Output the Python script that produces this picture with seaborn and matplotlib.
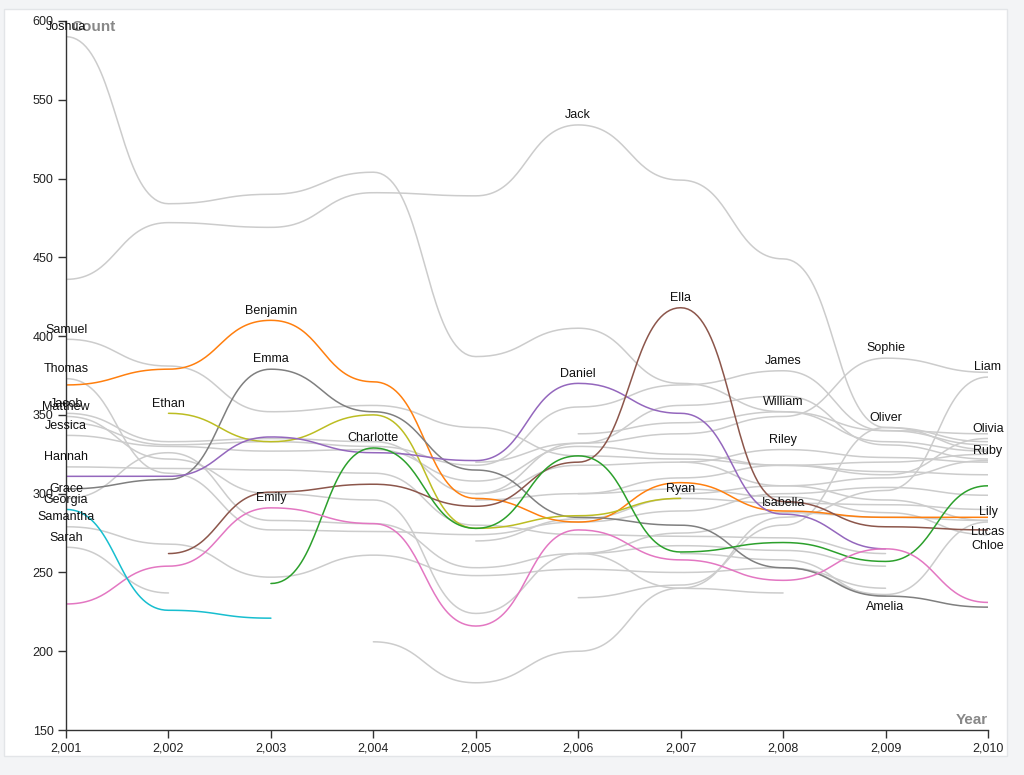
import numpy as np
import pandas as pd
import matplotlib
matplotlib.use("Agg")
import matplotlib.pyplot as plt
from matplotlib.patches import Rectangle
import seaborn as sns

sns.set_theme(style="white")
plt.rcParams['font.family'] = ['Liberation Sans', 'DejaVu Sans']

N = None
years = [2001, 2002, 2003, 2004, 2005, 2006, 2007, 2008, 2009, 2010]

# counts per name, one value per year (None = name not in the table that year)
joshua    = [590, 484, 490, 504, 387, 405, 370, 352, 333, 327]
jack      = [436, 472, 469, 491, 489, 534, 499, 449, 342, 328]
samuel    = [398, 381, 352, 356, 342, 324, 322, 318, 314, 312]
thomas    = [373, 313, 277, 276, 274, 282, 289, 300, 304, 299]
jacob     = [351, 333, 335, 333, 300, 332, 356, 362, 331, 322]
matthew   = [349, 322, 300, 296, 224, 262, 267, 264, 254, N]
jessica   = [337, 330, 327, 328, 308, 330, 325, 318, 320, 325]
hannah    = [317, 316, 315, 313, 280, 274, 273, 272, 262, N]
grace     = [297, 326, 283, 281, 253, 262, 240, 237, N, N]
georgia   = [290, 226, 221, N, N, N, N, N, N, N]
samantha  = [279, 268, 247, 261, 248, 252, 250, 253, 240, N]
sarah     = [266, 237, N, N, N, N, N, N, N, N]
ethan     = [N, 351, 333, 350, 278, 286, 297, N, N, N]
benjamin  = [369, 379, 410, 371, 297, 282, 307, 289, 285, 285]
emma      = [303, 309, 379, 352, 315, 285, 280, 253, 235, 228]
emily     = [230, 254, 291, 281, 216, 277, 258, 245, 265, 231]
charlotte = [N, N, 243, 329, 278, 324, 263, 269, 257, 305]
daniel    = [311, 311, 336, 326, 321, 370, 351, 287, 265, N]
ella      = [N, 262, 301, 306, 292, 320, 418, 295, 279, 277]
ryan      = [N, N, N, N, 270, 284, 297, 294, 293, 290]
james     = [345, 331, 333, 330, 318, 355, 369, 378, 340, 331]
william   = [N, N, N, N, N, 338, 345, 352, 340, 338]
riley     = [N, N, N, N, 300, 318, 320, 328, 323, 320]
isabella  = [N, N, N, N, N, 262, 275, 288, 285, 283]
sophie    = [N, N, N, N, 320, 332, 338, 349, 386, 377]
oliver    = [N, N, N, N, N, 234, 242, 280, 342, 333]
amelia    = [N, N, N, N, N, N, 262, 258, 235, N]
liam      = [N, N, N, 206, 180, 200, 240, 285, 302, 374]
olivia    = [N, N, N, N, N, 300, 310, 318, 312, 335]
ruby      = [N, N, N, N, N, N, 300, 305, 310, 321]
lily      = [N, N, N, N, N, N, N, 253, 236, 282]
lucas     = [N, N, N, N, N, N, 320, 305, 296, 283]
chloe     = [N, N, N, N, 296, 300, 303, 298, 288, 274]

series = {
    'Joshua': joshua, 'Jack': jack, 'Samuel': samuel, 'Thomas': thomas,
    'Jacob': jacob, 'Matthew': matthew, 'Jessica': jessica, 'Hannah': hannah,
    'Grace': grace, 'Samantha': samantha, 'Sarah': sarah, 'Ryan': ryan,
    'James': james, 'William': william, 'Riley': riley, 'Isabella': isabella,
    'Sophie': sophie, 'Oliver': oliver, 'Amelia': amelia, 'Liam': liam,
    'Olivia': olivia, 'Ruby': ruby, 'Lily': lily, 'Lucas': lucas, 'Chloe': chloe,
    'Ethan': ethan, 'Benjamin': benjamin, 'Emma': emma, 'Emily': emily,
    'Charlotte': charlotte, 'Daniel': daniel, 'Ella': ella, 'Georgia': georgia,
}

highlight = {
    'Benjamin': '#ff7f0e', 'Emma': '#7f7f7f', 'Ethan': '#bcbd22',
    'Daniel': '#9467bd', 'Ella': '#8c564b', 'Charlotte': '#2ca02c',
    'Emily': '#e377c2', 'Georgia': '#17becf',
}

# where each name is labelled: year and whether the label sits above or below the line
label_year = {
    'Joshua': 2001, 'Samuel': 2001, 'Thomas': 2001, 'Jacob': 2001, 'Matthew': 2001,
    'Jessica': 2001, 'Hannah': 2001, 'Grace': 2001, 'Georgia': 2001,
    'Samantha': 2001, 'Sarah': 2001, 'Ethan': 2002, 'Benjamin': 2003,
    'Emma': 2003, 'Emily': 2003, 'Charlotte': 2004, 'Jack': 2006, 'Daniel': 2006,
    'Ella': 2007, 'Ryan': 2007, 'James': 2008, 'William': 2008, 'Riley': 2008,
    'Isabella': 2008, 'Sophie': 2009, 'Oliver': 2009, 'Amelia': 2009,
    'Liam': 2010, 'Olivia': 2010, 'Ruby': 2010, 'Lily': 2010, 'Lucas': 2010,
    'Chloe': 2010,
}
label_below = ['Amelia', 'Lucas', 'Chloe']


def bump_x(xs, ys, n=40):
    # like d3.curveBumpX: flat at every point, S-shaped between points
    out_x, out_y = [], []
    t = np.linspace(0, 1, n, endpoint=False)
    for i in range(len(xs) - 1):
        x0, x1, y0, y1 = xs[i], xs[i + 1], ys[i], ys[i + 1]
        out_x.append(x0 + (x1 - x0) * (1.5 * t * (1 - t) + t**3))
        out_y.append(y0 + (y1 - y0) * (3 * t**2 - 2 * t**3))
    out_x.append([xs[-1]])
    out_y.append([ys[-1]])
    return np.concatenate(out_x), np.concatenate(out_y)


rows = []
for name, vals in series.items():
    pts = [(y, v) for y, v in zip(years, vals) if v is not None]
    sx, sy = bump_x([p[0] for p in pts], [p[1] for p in pts])
    rows.append(pd.DataFrame({'Year': sx, 'Count': sy, 'Name': name}))
df = pd.concat(rows, ignore_index=True)

greys = [n for n in series if n not in highlight]
order = greys + list(highlight)
palette = {n: highlight.get(n, '#cccccc') for n in order}

fig = plt.figure(figsize=(10.24, 7.75), dpi=100)
fig.patch.set_facecolor('#f3f4f6')
fig.patches.append(Rectangle((0.004, 0.0245), 0.979, 0.964, transform=fig.transFigure,
                             facecolor='white', edgecolor='#e3e5e8', linewidth=1, zorder=-10))
ax = fig.add_axes([0.0645, 0.058, 0.9003, 0.915])
ax.set_facecolor('none')
ax.set_zorder(2)

sns.lineplot(data=df, x='Year', y='Count', hue='Name', hue_order=order, palette=palette,
             estimator=None, sort=False, legend=False, linewidth=1.1, ax=ax)

for name, vals in series.items():
    yr = label_year[name]
    v = vals[years.index(yr)]
    dy = -8 if name in label_below else 7
    ax.annotate(name, (yr, v), xytext=(0, dy), textcoords='offset points',
                ha='center', va='center', fontsize=9, color='#111111', zorder=5,
                annotation_clip=False)

ax.set_xlim(2001, 2010)
ax.set_ylim(150, 600)
ax.set_xticks(years)
ax.set_xticklabels([f"{y:,}" for y in years])
ax.set_yticks(range(150, 601, 50))
ax.tick_params(axis='both', direction='out', length=6, width=1, color='#333333',
               labelsize=9, labelcolor='#222222', left=True, bottom=True, pad=3)
for side in ['top', 'right']:
    ax.spines[side].set_visible(False)
for side in ['left', 'bottom']:
    ax.spines[side].set_color('#333333')
    ax.spines[side].set_linewidth(1)
ax.set_xlabel('')
ax.set_ylabel('')
ax.text(0.0054, 0.9915, 'Count', transform=ax.transAxes, ha='left', va='center',
        fontsize=11, fontweight='bold', color='#888888')
ax.text(1.0, 0.014, 'Year', transform=ax.transAxes, ha='right', va='center',
        fontsize=11, fontweight='bold', color='#888888')

fig.savefig('out.png', dpi=100, facecolor=fig.get_facecolor())
